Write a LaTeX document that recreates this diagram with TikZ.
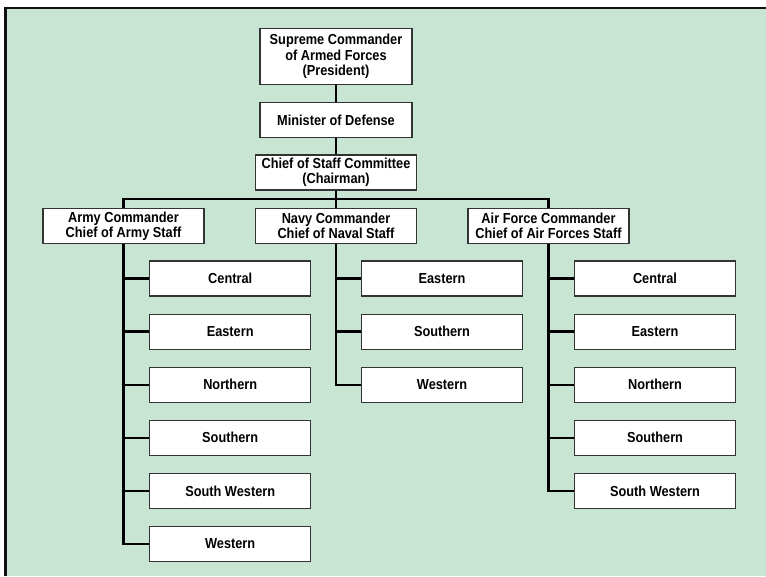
\documentclass[tikz,border=0pt]{standalone}
\usepackage{fontspec}
\setmainfont[FakeStretch=0.88]{Liberation Sans}
\usetikzlibrary{positioning,calc}
\definecolor{mint}{HTML}{C8E4D2}
\definecolor{frameink}{HTML}{111111}
\definecolor{boxline}{HTML}{333333}
\tikzset{
    orgbox/.style={draw=boxline,fill=white,line width=1.1pt,
      minimum height=35pt,inner sep=1pt,align=center,
      font=\bfseries\fontsize{14.5}{15.3}\selectfont},
    topbox/.style={orgbox,minimum width=152pt},
    unitbox/.style={orgbox,minimum width=161pt},
    linkline/.style={draw=black,line width=2.4pt}
}
\begin{document}
\begin{tikzpicture}[x=1pt,y=-1pt]
  \useasboundingbox (0,0) rectangle (766,576);
  \fill[white] (0,0) rectangle (766,576);
  \fill[mint] (5,8) rectangle (766,576);
  \draw[frameink,line width=2.5pt] (5.3,576) -- (5.3,8) -- (766,8);
  % top of the chain
  \node[topbox,minimum height=56pt] (pres) at (336,56.3) {Supreme Commander\\of Armed Forces\\(President)};
  \node[topbox] (mod) at (336,120) {Minister of Defense};
  \node[unitbox] (csc) at (336,172.5) {Chief of Staff Committee\\(Chairman)};
  \node[unitbox] (army) at (123.5,226) {Army Commander\\Chief of Army Staff};
  \node[unitbox] (navy) at (336,226) {Navy Commander\\Chief of Naval Staff};
  \node[unitbox] (air) at (548.5,226) {Air Force Commander\\Chief of Air Forces Staff};
  % commands
  \foreach \u [count=\i] in {Central,Eastern,Northern,Southern,South Western,Western}{
    \node[unitbox] (a\i) at (230.2,225.4+53.1*\i) {\u};}
  \foreach \u [count=\i] in {Eastern,Southern,Western}{
    \node[unitbox] (n\i) at (442,225.4+53.1*\i) {\u};}
  \foreach \u [count=\i] in {Central,Eastern,Northern,Southern,South Western}{
    \node[unitbox] (f\i) at (655,225.4+53.1*\i) {\u};}
  % connectors
  \coordinate (bus) at (336,199);
  \draw[linkline] (pres) -- (mod);
  \draw[linkline] (mod) -- (csc);
  \draw[linkline] (csc.south) -- (bus);
  \draw[linkline] (army.north) |- (bus) -| (air.north);
  \draw[linkline] (bus) -- (navy.north);
  \draw[linkline] (army.south) |- (a6.west);
  \draw[linkline] (navy.south) |- (n3.west);
  \draw[linkline] (air.south) |- (f5.west);
  \foreach \i in {1,...,5}
    \draw[linkline] (a\i.west) -- (a\i.west -| army.south);
  \foreach \i in {1,2}
    \draw[linkline] (n\i.west) -- (n\i.west -| navy.south);
  \foreach \i in {1,...,4}
    \draw[linkline] (f\i.west) -- (f\i.west -| air.south);
\end{tikzpicture}
\end{document}
